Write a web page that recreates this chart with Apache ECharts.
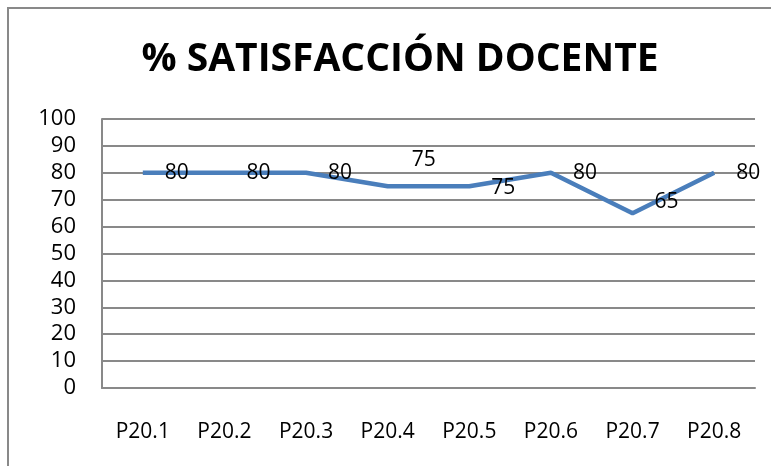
<!doctype html>
<html>
    <head>
        <meta charset="utf-8">
        <style>
            html, body { margin: 0; padding: 0; background: #fff; }
            #main { width: 771px; height: 466px; }
        </style>
    </head>
    <body>
        <div id="main"></div>
        <script src="https://cdn.jsdelivr.net/npm/echarts@6/dist/echarts.min.js"></script>
        <script>
            var chart = echarts.init(document.getElementById('main'));

            var categories = ['P20.1', 'P20.2', 'P20.3', 'P20.4', 'P20.5', 'P20.6', 'P20.7', 'P20.8'];
            var values = [80, 80, 80, 75, 75, 80, 65, 80];
            // label nudges (px) so the numbers sit where the original put them
            var labelOffsets = [[0, 0], [0, 0], [0, 0], [2, -26], [0, 2], [0, 0], [0, -11], [0, 0]];

            var GRAY = '#898989';
            var FONT = '"Open Sans", sans-serif';

            chart.setOption({
                animation: false,
                title: {
                    text: '% SATISFACCIÓN DOCENTE',
                    left: 395,
                    top: 35,
                    textAlign: 'center',
                    textStyle: {
                        fontFamily: FONT,
                        fontWeight: 'bold',
                        fontSize: 39,
                        color: '#000'
                    }
                },
                graphic: [{
                    type: 'rect',
                    shape: { x: 8, y: 8, width: 800, height: 500 },
                    style: { fill: 'none', stroke: GRAY, lineWidth: 2 },
                    silent: true
                }],
                grid: {
                    left: 102,
                    right: 16,
                    top: 119,
                    bottom: 78
                },
                xAxis: {
                    type: 'category',
                    data: categories,
                    boundaryGap: true,
                    axisLine: { lineStyle: { color: GRAY, width: 2 } },
                    axisTick: { show: false },
                    axisLabel: {
                        margin: 34,
                        color: '#000',
                        fontFamily: FONT,
                        fontSize: 21
                    }
                },
                yAxis: {
                    type: 'value',
                    min: 0,
                    max: 100,
                    interval: 10,
                    axisLine: { show: true, lineStyle: { color: GRAY, width: 2 } },
                    axisTick: { show: false },
                    splitLine: { lineStyle: { color: GRAY, width: 2 } },
                    axisLabel: {
                        margin: 26,
                        color: '#000',
                        fontFamily: FONT,
                        fontSize: 22
                    }
                },
                series: [{
                    type: 'line',
                    data: values.map(function (v, i) {
                        return { value: v, label: { offset: labelOffsets[i] } };
                    }),
                    symbol: 'circle',
                    symbolSize: 0,
                    showSymbol: true,
                    lineStyle: { color: '#4a7ebb', width: 4.5 },
                    itemStyle: { color: '#4a7ebb' },
                    label: {
                        show: true,
                        position: 'right',
                        distance: 22,
                        color: '#000',
                        fontFamily: FONT,
                        fontSize: 21
                    }
                }]
            });

            window.addEventListener('resize', function () {
                chart.resize();
            });
        </script>
    </body>
</html>
